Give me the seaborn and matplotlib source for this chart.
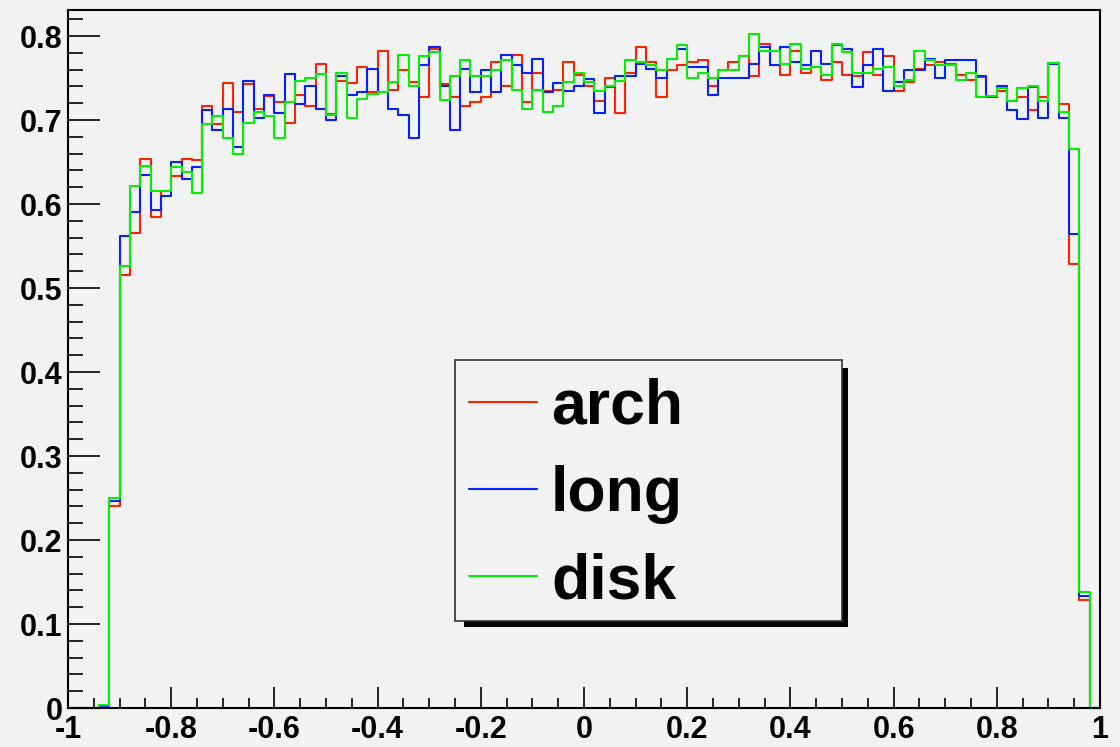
import numpy as np
import pandas as pd
import matplotlib
matplotlib.use("Agg")
import matplotlib.pyplot as plt
from matplotlib.lines import Line2D
from matplotlib.patches import Rectangle
import seaborn as sns

# 100 equal bins on [-1, 1]
n_bins = 100
x_range = (-1.0, 1.0)

arch = [
    0.000, 0.000, 0.000, 0.003, 0.240, 0.516, 0.566, 0.654, 0.584, 0.615,
    0.633, 0.654, 0.653, 0.717, 0.695, 0.744, 0.710, 0.743, 0.713, 0.729,
    0.721, 0.697, 0.730, 0.717, 0.767, 0.707, 0.746, 0.744, 0.763, 0.733,
    0.782, 0.736, 0.759, 0.745, 0.727, 0.784, 0.743, 0.728, 0.717, 0.721,
    0.728, 0.769, 0.741, 0.778, 0.721, 0.756, 0.734, 0.736, 0.769, 0.754,
    0.741, 0.723, 0.750, 0.708, 0.756, 0.787, 0.769, 0.728, 0.759, 0.765,
    0.769, 0.771, 0.741, 0.759, 0.769, 0.776, 0.752, 0.791, 0.765, 0.754,
    0.782, 0.756, 0.763, 0.748, 0.769, 0.754, 0.752, 0.781, 0.754, 0.776,
    0.734, 0.745, 0.761, 0.765, 0.769, 0.767, 0.754, 0.748, 0.751, 0.728,
    0.735, 0.723, 0.727, 0.712, 0.727, 0.768, 0.719, 0.529, 0.129, 0.000,
]

long_ = [
    0.000, 0.000, 0.000, 0.002, 0.247, 0.562, 0.590, 0.635, 0.593, 0.609,
    0.650, 0.630, 0.644, 0.712, 0.688, 0.713, 0.668, 0.747, 0.703, 0.730,
    0.708, 0.755, 0.719, 0.741, 0.713, 0.700, 0.752, 0.730, 0.733, 0.761,
    0.733, 0.713, 0.706, 0.679, 0.765, 0.787, 0.741, 0.688, 0.761, 0.733,
    0.759, 0.733, 0.778, 0.765, 0.756, 0.773, 0.733, 0.744, 0.734, 0.741,
    0.749, 0.708, 0.739, 0.752, 0.752, 0.767, 0.761, 0.750, 0.773, 0.785,
    0.763, 0.763, 0.730, 0.750, 0.750, 0.750, 0.767, 0.787, 0.765, 0.787,
    0.769, 0.765, 0.782, 0.767, 0.789, 0.785, 0.739, 0.765, 0.785, 0.734,
    0.745, 0.759, 0.759, 0.773, 0.750, 0.772, 0.772, 0.772, 0.752, 0.727,
    0.740, 0.712, 0.701, 0.739, 0.703, 0.767, 0.702, 0.564, 0.133, 0.000,
]

disk = [
    0.000, 0.000, 0.000, 0.003, 0.250, 0.526, 0.622, 0.645, 0.615, 0.615,
    0.644, 0.638, 0.613, 0.695, 0.705, 0.679, 0.659, 0.697, 0.709, 0.705,
    0.679, 0.722, 0.746, 0.750, 0.755, 0.706, 0.756, 0.703, 0.725, 0.731,
    0.733, 0.745, 0.778, 0.741, 0.776, 0.781, 0.724, 0.752, 0.771, 0.752,
    0.752, 0.759, 0.771, 0.736, 0.713, 0.736, 0.709, 0.717, 0.745, 0.756,
    0.745, 0.734, 0.741, 0.747, 0.771, 0.769, 0.765, 0.759, 0.773, 0.789,
    0.750, 0.756, 0.750, 0.759, 0.759, 0.776, 0.802, 0.782, 0.782, 0.767,
    0.791, 0.761, 0.763, 0.754, 0.791, 0.781, 0.756, 0.756, 0.761, 0.763,
    0.741, 0.748, 0.782, 0.771, 0.765, 0.766, 0.748, 0.756, 0.727, 0.729,
    0.738, 0.723, 0.738, 0.740, 0.723, 0.768, 0.710, 0.666, 0.138, 0.000,
]

series_names = ["arch", "long", "disk"]
series_colors = ["#ff2200", "#0022ff", "#00ee00"]

x_ticks = [-1.0, -0.8, -0.6, -0.4, -0.2, 0.0, 0.2, 0.4, 0.6, 0.8, 1.0]
x_tick_labels = ["-1", "-0.8", "-0.6", "-0.4", "-0.2", "0", "0.2", "0.4", "0.6", "0.8", "1"]
y_ticks = [0.0, 0.1, 0.2, 0.3, 0.4, 0.5, 0.6, 0.7, 0.8]
y_tick_labels = ["0", "0.1", "0.2", "0.3", "0.4", "0.5", "0.6", "0.7", "0.8"]

bg = "#f2f2f2"
sns.set_style("ticks")
plt.rcParams["font.family"] = ["Liberation Sans", "DejaVu Sans"]
plt.rcParams["text.color"] = "black"

fig = plt.figure(figsize=(11.2, 7.47), dpi=100, facecolor=bg)
W, H = 1120, 747
ax = fig.add_axes([68 / W, 39 / H, 1032 / W, 698 / H])
ax.set_facecolor(bg)

edges = np.linspace(x_range[0], x_range[1], n_bins + 1)
centers = 0.5 * (edges[:-1] + edges[1:])
for name, vals, col in zip(series_names, [arch, long_, disk], series_colors):
    frame = pd.DataFrame({"x": centers, "w": vals})
    sns.histplot(data=frame, x="x", weights="w", bins=n_bins, binrange=x_range,
                 element="step", fill=False, color=col, linewidth=1.5, ax=ax)

for ln in ax.lines:
    ln.set_clip_on(False)

ax.set_xlim(-1, 1)
ax.set_ylim(0, 0.831)
ax.set_xlabel("")
ax.set_ylabel("")

ax.set_xticks(x_ticks)
ax.set_xticklabels(x_tick_labels)
ax.set_xticks(np.arange(-1, 1.0001, 0.05), minor=True)
ax.set_yticks(y_ticks)
ax.set_yticklabels(y_tick_labels)
ax.set_yticks(np.arange(0, 0.83, 0.02), minor=True)

ax.tick_params(axis="both", which="both", direction="in", colors="black",
               labelcolor="black", top=False, right=False)
ax.tick_params(axis="y", which="major", length=23, width=1.2, pad=4)
ax.tick_params(axis="y", which="minor", length=11, width=1.2)
ax.tick_params(axis="x", which="major", length=15, width=1.2, pad=5)
ax.tick_params(axis="x", which="minor", length=7.5, width=1.2)
for lab in ax.get_xticklabels() + ax.get_yticklabels():
    lab.set_fontweight("bold")
    lab.set_fontsize(22)
    lab.set_color("black")

for sp in ax.spines.values():
    sp.set_visible(True)
    sp.set_color("black")
    sp.set_linewidth(1.5)

# legend box with a solid drop shadow
def px_x(p):
    return (p - 68) / 1032

def px_y(p):
    return (708 - p) / 698

shadow = Rectangle((px_x(464), px_y(627)), px_x(848) - px_x(464), px_y(368) - px_y(627),
                   transform=ax.transAxes, facecolor="black", edgecolor="none", zorder=5)
box = Rectangle((px_x(455), px_y(621)), px_x(842) - px_x(455), px_y(360) - px_y(621),
                transform=ax.transAxes, facecolor=bg, edgecolor="#333333", linewidth=1.2, zorder=6)
ax.add_patch(shadow)
ax.add_patch(box)

handles = [Line2D([], [], color=c, linewidth=1.5) for c in series_colors]
leg = ax.legend(handles, series_names, frameon=False, loc="upper left",
                bbox_to_anchor=(px_x(469), px_y(378)), borderpad=0, borderaxespad=0,
                handlelength=1.09, handletextpad=0.22, labelspacing=0.45,
                prop={"family": "Liberation Sans", "weight": "bold", "size": 45})
for t in leg.get_texts():
    t.set_color("black")
leg.set_zorder(7)

fig.savefig("out.png", dpi=100, facecolor=bg)
